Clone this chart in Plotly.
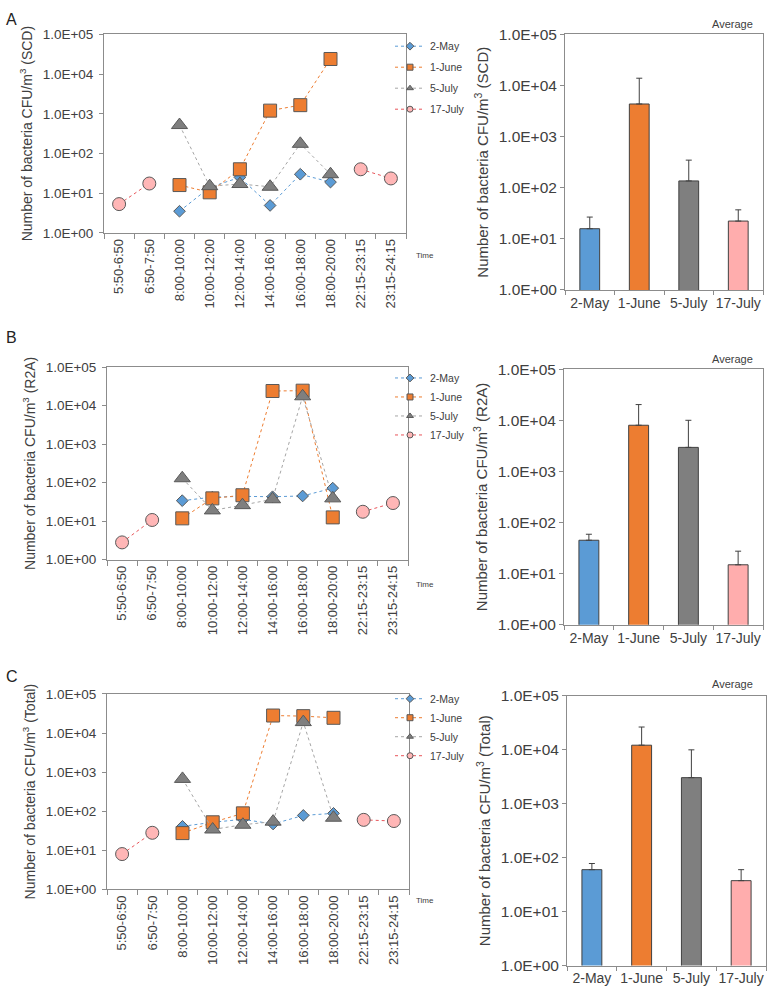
import plotly.graph_objects as go

W, H = 768, 992

times = ["5:50-6:50", "6:50-7:50", "8:00-10:00", "10:00-12:00", "12:00-14:00",
         "14:00-16:00", "16:00-18:00", "18:00-20:00", "22:15-23:15", "23:15-24:15"]
dates = ["2-May", "1-June", "5-July", "17-July"]

# Panel A (SCD)
scd_may2 = [None, None, 3.5, 14, 25, 4.9, 30, 19, None, None]
scd_june1 = [None, None, 16, 10.5, 40, 1200, 1650, 24000, None, None]
scd_july5 = [None, None, 520, 15, 17, 14.5, 175, 30, None, None]
scd_july17 = [5.3, 17.5, None, None, None, None, None, None, 40, 23.5]
scd_avg = [15.8, 4350, 136, 22.3]
scd_err_top = [26.7, 13900, 347, 37]

# Panel B (R2A)
r2a_may2 = [None, None, 34, 42, 44, 43, 45, 72, None, None]
r2a_june1 = [None, None, 11.8, 39, 47, 24000, 24500, 12.5, None, None]
r2a_july5 = [None, None, 130, 19, 26, 37, 17500, 39, None, None]
r2a_july17 = [2.8, 10.7, None, None, None, None, None, None, 17.5, 29.5]
r2a_avg = [45, 8000, 2950, 14.9]
r2a_err_top = [59, 20300, 10000, 27.5]

# Panel C (Total)
tot_may2 = [None, None, 41, 52, 62, 47, 78, 88, None, None]
tot_june1 = [None, None, 27.5, 52, 88, 28000, 27000, 24500, None, None]
tot_july5 = [None, None, 670, 34, 45, 54, 19000, 68, None, None]
tot_july17 = [8.0, 28, None, None, None, None, None, None, 60, 56]
tot_avg = [60, 12200, 3050, 37.5]
tot_err_top = [78, 26500, 10000, 60]

ytickvals = [1, 10, 100, 1000, 10000, 100000]
yticktext = ["1.0E+00", "1.0E+01", "1.0E+02", "1.0E+03", "1.0E+04", "1.0E+05"]

FONT = "Liberation Sans, Arial, sans-serif"
TXT = "#404040"
AX = "#8c8c8c"

marker_fill = ["#5B9BD5", "#ED7D31", "#7F7F7F", "#FFB6B6"]
line_col = ["#5B9BD5", "#ED7D31", "#A5A5A5", "#E8555A"]
symbols = ["diamond", "square", "triangle-up", "circle"]
msizes = [9, 13, 14, 13]
bar_fill = ["#5B9BD5", "#ED7D31", "#7F7F7F", "#FFADAD"]


def Y(t):
    # correct for the vertical offset/compression seen in the captured picture
    return (t - 8.66) / 0.9806


def px(x0, x1):
    return [x0 / W, x1 / W]


def py(y_top, y_bot):
    return [1 - Y(y_bot) / H, 1 - Y(y_top) / H]


def pyy(t):
    return 1 - Y(t) / H


panels = [
    dict(name="SCD", series=[scd_may2, scd_june1, scd_july5, scd_july17], avg=scd_avg, top=scd_err_top,
         ldx=px(104, 406), ldy=py(34, 232), rdx=px(565, 763), rdy=py(34, 289),
         legend="legend", leg_row=47, gap=2, letter_y=9, time_y=255, avg_y=24, letter="A"),
    dict(name="R2A", series=[r2a_may2, r2a_june1, r2a_july5, r2a_july17], avg=r2a_avg, top=r2a_err_top,
         ldx=px(107, 408), ldy=py(366, 558), rdx=px(564, 763), rdy=py(368, 623),
         legend="legend2", leg_row=378, gap=0, letter_y=336, time_y=583, avg_y=358, letter="B"),
    dict(name="Total", series=[tot_may2, tot_june1, tot_july5, tot_july17], avg=tot_avg, top=tot_err_top,
         ldx=px(107, 409), ldy=py(692, 887), rdx=px(567, 766), rdy=py(694, 963),
         legend="legend3", leg_row=698, gap=0, letter_y=675, time_y=898, avg_y=682, letter="C"),
]

fig = go.Figure()
layout = dict(width=W, height=H, margin=dict(l=0, r=0, t=0, b=0),
              paper_bgcolor="white", plot_bgcolor="white",
              font=dict(family=FONT, color=TXT), showlegend=True, bargap=0.6)
annotations = []

for i, p in enumerate(panels):
    la = 2 * i + 1
    ra = 2 * i + 2
    lx = "x" if la == 1 else f"x{la}"
    ly = "y" if la == 1 else f"y{la}"
    rx = f"x{ra}"
    ry = f"y{ra}"
    # left line chart
    for k in range(4):
        fig.add_trace(go.Scatter(
            x=times, y=p["series"][k], mode="lines+markers", xaxis=lx, yaxis=ly,
            name=dates[k], showlegend=False, connectgaps=False,
            line=dict(color=line_col[k], width=1, dash="dot"),
            marker=dict(symbol=symbols[k], size=msizes[k], color=marker_fill[k],
                        line=dict(color="#595959", width=1))))
    # legend entries
    for k in range(4):
        fig.add_trace(go.Scatter(
            x=[None], y=[None], mode="lines+markers", xaxis=lx, yaxis=ly,
            name=dates[k], legend=p["legend"], legendgroup=f"{p['legend']}{k}",
            line=dict(color=line_col[k], width=1, dash="dot"),
            marker=dict(symbol=symbols[k], size=6, color=marker_fill[k],
                        line=dict(color="#595959", width=1))))
    # right bar chart
    fig.add_trace(go.Bar(
        x=dates, y=p["avg"], xaxis=rx, yaxis=ry, showlegend=False, width=0.4,
        marker=dict(color=bar_fill, line=dict(color="#404040", width=1)),
        error_y=dict(type="data", symmetric=False,
                     array=[t - a for t, a in zip(p["top"], p["avg"])],
                     arrayminus=[0, 0, 0, 0], color="#404040", thickness=1, width=3)))

    ytitle_l = f"Number of bacteria CFU/m<sup>3</sup> ({p['name']})"
    layout[f"xaxis{'' if la == 1 else la}"] = dict(
        domain=p["ldx"], anchor=ly, type="category", categoryorder="array", categoryarray=times,
        range=[-0.5, 9.5], tickson="boundaries", ticks="outside", ticklen=5, tickcolor=AX,
        tickangle=-90, tickfont=dict(size=13, color=TXT), showline=True, linecolor=AX,
        mirror=True, showgrid=False, zeroline=False)
    layout[f"yaxis{'' if la == 1 else la}"] = dict(
        domain=p["ldy"], anchor=lx, type="log", range=[0, 5], tickvals=ytickvals,
        ticktext=yticktext, ticks="outside", ticklen=4, tickcolor=AX,
        tickfont=dict(size=13.5, color=TXT), showline=True, linecolor=AX, mirror=True,
        showgrid=False, zeroline=False, ticklabelstandoff=3,
        title=dict(text=ytitle_l, font=dict(size=14, color=TXT), standoff=6))
    layout[f"xaxis{ra}"] = dict(
        domain=p["rdx"], anchor=ry, type="category", categoryorder="array", categoryarray=dates,
        range=[-0.5, 3.5], tickson="boundaries", ticks="outside", ticklen=4, tickcolor=AX,
        tickangle=0, tickfont=dict(size=14, color=TXT), showline=True, linecolor=AX, mirror=True,
        showgrid=False, zeroline=False)
    layout[f"yaxis{ra}"] = dict(
        domain=p["rdy"], anchor=rx, type="log", range=[0, 5], tickvals=ytickvals,
        ticktext=yticktext, ticks="outside", ticklen=4, tickcolor=AX,
        tickfont=dict(size=15.5, color=TXT), showline=True, linecolor=AX, mirror=True,
        showgrid=False, zeroline=False,
        title=dict(text=ytitle_l, font=dict(size=15, color=TXT), standoff=6))
    layout[p["legend"]] = dict(
        x=390 / W, y=1 - (Y(p["leg_row"]) - 16) / H, xanchor="left", yanchor="top",
        bgcolor="rgba(0,0,0,0)", font=dict(size=10.5, color=TXT),
        tracegroupgap=p["gap"], itemwidth=30, traceorder="grouped")

    annotations.append(dict(text=p["letter"], x=4 / W, y=min(1.0, pyy(p["letter_y"]) + 0.0),
                            xref="paper", yref="paper", xanchor="left",
                            yanchor="top" if i == 0 else "middle", showarrow=False,
                            font=dict(size=16, color="#222222")))
    annotations.append(dict(text="Time", x=425 / W, y=pyy(p["time_y"]), xref="paper",
                            yref="paper", xanchor="center", yanchor="middle", showarrow=False,
                            font=dict(size=8, color=TXT)))
    annotations.append(dict(text="Average", x=732 / W, y=pyy(p["avg_y"]), xref="paper",
                            yref="paper", xanchor="center", yanchor="middle", showarrow=False,
                            font=dict(size=11, color=TXT)))

layout["annotations"] = annotations
fig.update_layout(**layout)
fix_js = ("var s=document.createElement('style');"
          "s.innerHTML='html,body{margin:0 !important;padding:0 !important;overflow:hidden !important;"
          "width:768px;height:992px;}"
          ".plotly-graph-div{position:fixed !important;top:0 !important;left:0 !important;}';"
          "document.head.appendChild(s);")
fig.write_html("out.html", config={"displayModeBar": False, "responsive": False},
               post_script=fix_js)
